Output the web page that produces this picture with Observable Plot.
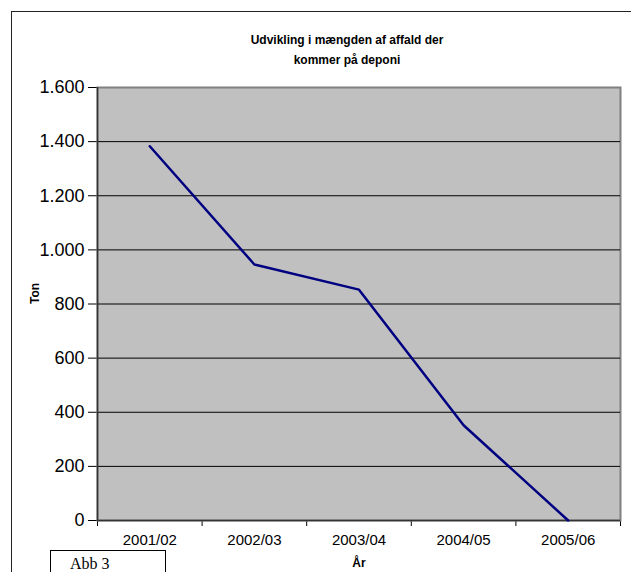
<!DOCTYPE html>
<html>
<head>
<meta charset="utf-8">
<script src="https://cdn.jsdelivr.net/npm/d3@7"></script>
<script src="https://cdn.jsdelivr.net/npm/@observablehq/plot@0.6"></script>
<style>
  html, body { margin: 0; padding: 0; background: #fff; overflow: hidden; width: 631px; height: 572px; }
  #wrap { position: relative; width: 631px; height: 572px; }
  #border { position: absolute; left: 11px; top: 11px; width: 800px; height: 800px;
            border-left: 1.5px solid #222; border-top: 1.5px solid #222; pointer-events: none; }
  #abb { position: absolute; left: 50px; top: 550px; width: 116px; height: 40px; background: #fff;
         border: 1.5px solid #000; font-family: "Liberation Serif", "Times New Roman", serif; font-size: 16px;
         line-height: 16px; box-sizing: border-box; padding: 5px 0 0 19px; }
</style>
</head>
<body>
<div id="wrap"></div>
<script>
const title = "Udvikling i mængden af affald der\nkommer på deponi";
const categories = ["2001/02", "2002/03", "2003/04", "2004/05", "2005/06"];
const values = [1383, 946, 853, 352, 0];
const yTicks = [0, 200, 400, 600, 800, 1000, 1200, 1400, 1600];
const yLabel = "Ton";
const xLabel = "År";
const note = "Abb 3";

const data = categories.map((c, i) => ({cat: c, i: i + 0.5, value: values[i]}));
const boundaries = d3.range(categories.length + 1);
const dk = d3.formatLocale({decimal: ",", thousands: ".", grouping: [3], currency: ["", ""]}).format(",");

const chart = Plot.plot({
  width: 631,
  height: 572,
  marginLeft: 97,
  marginRight: 11,
  marginTop: 87,
  marginBottom: 52,
  style: {fontFamily: "'Liberation Sans', Arial, sans-serif", fontSize: "18px", color: "#000", background: "transparent"},
  x: {domain: [0, categories.length], ticks: boundaries, tickFormat: () => "", tickSize: 6, label: null},
  y: {domain: [0, 1600], ticks: yTicks, tickFormat: d => dk(d), tickSize: 9, tickPadding: 4, label: null},
  marks: [
    Plot.frame({fill: "#c0c0c0", stroke: "#808080", strokeWidth: 2}),
    Plot.ruleY(yTicks.filter(d => d > 0 && d < 1600), {stroke: "#000", strokeWidth: 1}),
    Plot.ruleX([0], {stroke: "#333", strokeWidth: 1.5}),
    Plot.ruleY([0], {stroke: "#333", strokeWidth: 1.5}),
    Plot.line(data, {x: "i", y: "value", stroke: "#000080", strokeWidth: 2.5}),
    Plot.text(data, {x: "i", y: 0, text: "cat", dy: 20, fontSize: 15}),
    Plot.text([xLabel], {text: d => d, frameAnchor: "bottom", lineAnchor: "middle", dy: 43, fontSize: 12, fontWeight: "bold"}),
    Plot.text([yLabel], {text: d => d, frameAnchor: "left", dx: -62, rotate: -90, fontSize: 12, fontWeight: "bold"}),
    Plot.text([title], {text: d => d, frameAnchor: "top", lineAnchor: "middle", dx: -12, dy: -40, fontSize: 12, fontWeight: "bold", lineHeight: 1.65})
  ]
});

const wrap = document.getElementById("wrap");
wrap.appendChild(chart);
const b = document.createElement("div"); b.id = "border"; wrap.appendChild(b);
const a = document.createElement("div"); a.id = "abb"; a.textContent = note; wrap.appendChild(a);
chart.style.position = "absolute"; chart.style.left = "0"; chart.style.top = "0";
</script>
</body>
</html>
